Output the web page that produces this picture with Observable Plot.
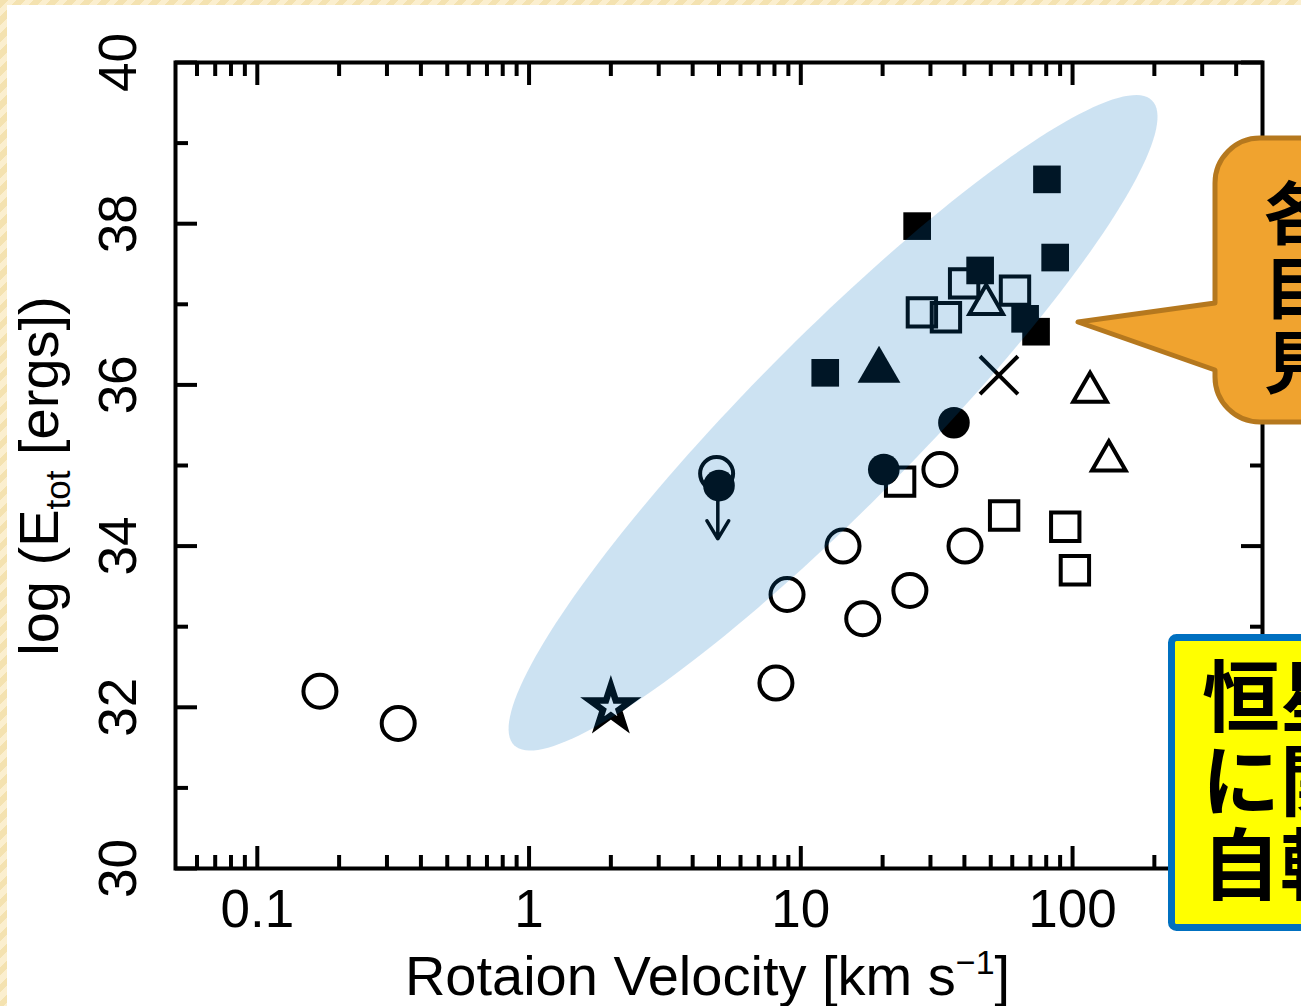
<!DOCTYPE html>
<html><head><meta charset="utf-8">
<script src="https://cdn.jsdelivr.net/npm/d3@7"></script>
<script src="https://cdn.jsdelivr.net/npm/@observablehq/plot@0.6"></script>
<style>
html,body{margin:0;padding:0;width:1301px;height:1006px;overflow:hidden;}
body{position:relative;background:repeating-linear-gradient(135deg,#f4e2b0 0px,#f4e2b0 6px,#fbefcf 6px,#fbefcf 12px);}
#chart{position:absolute;left:7px;top:5px;width:1294px;height:1001px;background:#fff;}
#overlay{position:absolute;left:0;top:0;}
</style></head><body>
<div id="chart"></div>
<svg id="overlay" width="1301" height="1006" xmlns="http://www.w3.org/2000/svg">
  <path d="M1260,138 L1380,138 L1380,422 L1260,422 A45,45 0 0 1 1215,377 L1215,370 L1078,322 L1215,303 L1215,183 A45,45 0 0 1 1260,138 Z" fill="#f0a32f" stroke="#b5781e" stroke-width="5" stroke-linejoin="round"/>
  <text font-family="'Noto Sans CJK JP'" font-weight="bold" font-size="68" fill="#000"><tspan x="1264" y="239">各</tspan><tspan x="1264" y="314">目</tspan><tspan x="1264" y="388">見</tspan></text>
  <rect x="1171.5" y="637.5" width="200" height="290" rx="5" fill="#ffff00" stroke="#0070c0" stroke-width="7"/>
  <text font-family="'Noto Sans CJK JP'" font-weight="bold" font-size="78" fill="#000"><tspan x="1202" y="726">恒星</tspan><tspan x="1202" y="810">に関</tspan><tspan x="1202" y="894">自転</tspan></text>
</svg>
<script>
// ---- data ----
const openCircleX = [0.17, 0.33, 4.9, 8.9, 8.1, 14.3, 16.9, 25.2, 32.5, 40.2];
const openCircleY = [32.2, 31.8, 34.9, 33.4, 32.3, 34.0, 33.1, 33.45, 34.95, 34.0];
const filledCircleX = [5.0, 20.2, 36.6];
const filledCircleY = [34.75, 34.95, 35.53];
const openSquareX = [23.2, 56, 94, 102, 27.9, 34.2, 39.9, 61.4];
const openSquareY = [34.8, 34.38, 34.24, 33.7, 36.9, 36.84, 37.26, 37.17];
const filledSquareX = [26.8, 80.5, 86.3, 45.7, 66.9, 73.4, 12.3];
const filledSquareY = [37.97, 38.55, 37.58, 37.42, 36.82, 36.66, 36.15];
const filledTriangleX = [19.4];
const filledTriangleY = [36.18];
const openTriangleX = [48.1, 116, 136];
const openTriangleY = [37.0, 35.91, 35.06];
const crossX = [53.6];
const crossY = [36.12];
const starX = [2.0];
const starY = [32.0];
// upper limit arrow (from the filled circle at v=5)
const limitX = [4.95];
const limitYFrom = [34.9];
const limitYTo = [34.09];
// highlighted region: two tips of the ellipse (data units)
const ellipseTipLow = [0.881, 31.53];
const ellipseTipHigh = [196, 39.53];

// axes
const xDomain = [0.05, 500];
const yDomain = [30, 40];
const xMajor = [0.1, 1, 10, 100];
const xTickLabels = ["0.1", "1", "10", "100"];
const xMinor = [0.06,0.07,0.08,0.09,0.2,0.3,0.4,0.5,0.6,0.7,0.8,0.9,2,3,4,5,6,7,8,9,20,30,40,50,60,70,80,90,200,300,400];
const yMajor = [30, 32, 34, 36, 38, 40];
const yTickLabels = ["30", "32", "34", "36", "38", "40"];
const yMinor = [31, 33, 35, 37, 39];
const xTitle = ["Rotaion Velocity [km s", "−1", "]"];
const yTitle = ["log (E", "tot", " [ergs])"];

// ---- layout ----
const W = 1294, H = 1001;
const M = {top: 57, right: 39, bottom: 138, left: 168};
const FONT = "Liberation Sans, Arial, sans-serif";

const pts = (xs, ys) => xs.map((x, i) => ({x, y: ys[i]}));

// ellipse outline, built in screen-proportional space then mapped back to data
const pxPerDecade = (W - M.left - M.right) / Math.log10(xDomain[1] / xDomain[0]);
const pxPerUnit = (H - M.top - M.bottom) / (yDomain[1] - yDomain[0]);
function ellipsePoints(lo, hi, halfWidthPx, n = 180) {
  const ax = Math.log10(lo[0]) * pxPerDecade, ay = -lo[1] * pxPerUnit;
  const bx = Math.log10(hi[0]) * pxPerDecade, by = -hi[1] * pxPerUnit;
  const cx = (ax + bx) / 2, cy = (ay + by) / 2;
  const a = Math.hypot(bx - ax, by - ay) / 2;
  const ux = (bx - ax) / (2 * a), uy = (by - ay) / (2 * a);
  const vx = -uy, vy = ux;
  const out = [];
  for (let i = 0; i < n; i++) {
    const t = 2 * Math.PI * i / n;
    const px = cx + a * Math.cos(t) * ux + halfWidthPx * Math.sin(t) * vx;
    const py = cy + a * Math.cos(t) * uy + halfWidthPx * Math.sin(t) * vy;
    out.push({x: Math.pow(10, px / pxPerDecade), y: -py / pxPerUnit});
  }
  return out;
}
const ellipse = ellipsePoints(ellipseTipLow, ellipseTipHigh, 84);

const tickStyle = {strokeWidth: 4, fill: "none", label: null, tickFormat: () => ""};

const chart = Plot.plot({
  width: W, height: H,
  marginTop: M.top, marginRight: M.right, marginBottom: M.bottom, marginLeft: M.left,
  style: {background: "white", fontFamily: FONT, overflow: "visible"},
  x: {type: "log", domain: xDomain, axis: null},
  y: {domain: yDomain, axis: null},
  marks: [
    Plot.axisX(xMajor, {anchor: "bottom", tickSize: -22, ...tickStyle}),
    Plot.axisX(xMinor, {anchor: "bottom", tickSize: -13, ...tickStyle}),
    Plot.axisX(xMajor, {anchor: "top", tickSize: -22, ...tickStyle}),
    Plot.axisX(xMinor, {anchor: "top", tickSize: -13, ...tickStyle}),
    Plot.axisY(yMajor, {anchor: "left", tickSize: -22, ...tickStyle}),
    Plot.axisY(yMinor, {anchor: "left", tickSize: -13, ...tickStyle}),
    Plot.axisY(yMajor, {anchor: "right", tickSize: -22, ...tickStyle}),
    Plot.axisY(yMinor, {anchor: "right", tickSize: -13, ...tickStyle}),

    Plot.arrow(limitX.map((x, i) => ({x, y1: limitYFrom[i], y2: limitYTo[i]})),
      {x1: "x", x2: "x", y1: "y1", y2: "y2", stroke: "#000", strokeWidth: 3.5, headLength: 9, headAngle: 62}),

    Plot.dot(pts(openCircleX, openCircleY), {x: "x", y: "y", r: 16.5, symbol: "circle", fill: "none", stroke: "#000", strokeWidth: 4}),
    Plot.dot(pts(openSquareX, openSquareY), {x: "x", y: "y", r: 16, symbol: "square", fill: "none", stroke: "#000", strokeWidth: 4}),
    Plot.dot(pts(filledSquareX, filledSquareY), {x: "x", y: "y", r: 15.6, symbol: "square", fill: "#000", stroke: "none"}),
    Plot.dot(pts(filledCircleX, filledCircleY), {x: "x", y: "y", r: 15.8, symbol: "circle", fill: "#000", stroke: "none"}),
    Plot.dot(pts(filledTriangleX, filledTriangleY), {x: "x", y: "y", r: 15.9, symbol: "triangle", fill: "#000", stroke: "none"}),
    Plot.dot(pts(openTriangleX, openTriangleY), {x: "x", y: "y", r: 12.5, symbol: "triangle", fill: "none", stroke: "#000", strokeWidth: 4, strokeLinejoin: "miter"}),
    Plot.dot(pts(crossX, crossY), {x: "x", y: "y", r: 17.3, symbol: "times", fill: "none", stroke: "#000", strokeWidth: 4}),
    Plot.dot(pts(starX, starY), {x: "x", y: "y", r: 13, symbol: "star", fill: "none", stroke: "#000", strokeWidth: 6.5, strokeLinejoin: "miter"}),

    Plot.line(ellipse, {x: "x", y: "y", curve: "linear-closed", fill: "#0070c0", fillOpacity: 0.2, stroke: "none"}),

    Plot.text(xMajor, {x: d => d, frameAnchor: "bottom", dy: 42, text: (d, i) => xTickLabels[i], fontSize: 53, fill: "#000", lineAnchor: "middle", textAnchor: "middle"}),
    Plot.text(yMajor, {y: d => d, frameAnchor: "left", dx: -56, rotate: -90, text: (d, i) => yTickLabels[i], fontSize: 53, fill: "#000", lineAnchor: "middle", textAnchor: "middle"}),

    Plot.frame({stroke: "#000", strokeWidth: 4})
  ]
});
document.getElementById("chart").appendChild(chart);

// axis titles with sub/superscripts
const svg = d3.select(chart);
const xt = svg.append("text")
  .attr("x", 700.5).attr("y", 990)
  .attr("text-anchor", "middle").attr("font-family", FONT).attr("font-size", 56).attr("fill", "#000");
xt.append("tspan").text(xTitle[0]);
xt.append("tspan").attr("font-size", 34).attr("dy", -21).text(xTitle[1]);
xt.append("tspan").attr("dy", 21).text(xTitle[2]);

const yt = svg.append("text")
  .attr("transform", "translate(51,471) rotate(-90)")
  .attr("text-anchor", "middle").attr("font-family", FONT).attr("font-size", 56).attr("fill", "#000");
yt.append("tspan").text(yTitle[0]);
yt.append("tspan").attr("font-size", 35).attr("dy", 12).text(yTitle[1]);
yt.append("tspan").attr("dy", -12).text(yTitle[2]);
</script>
</body></html>
